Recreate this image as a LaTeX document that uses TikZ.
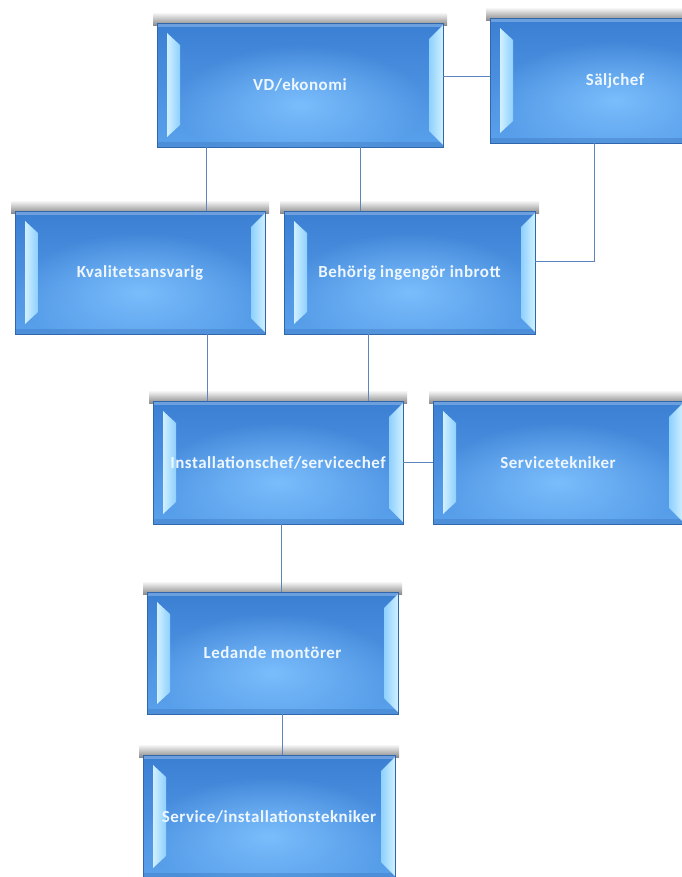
\documentclass[tikz,border=0pt]{standalone}
\usepackage{fontspec}
\setmainfont{Carlito}
\usetikzlibrary{fadings,calc}
\definecolor{boxedge}{HTML}{2F66AC}
\definecolor{boxtop}{HTML}{3B7FD3}
\definecolor{boxbot}{HTML}{5AA1EC}
\definecolor{boxglow}{HTML}{80C2FF}
\definecolor{bevel}{HTML}{8ED0FF}
\definecolor{bevellight}{HTML}{D0F0FF}
\definecolor{link}{HTML}{5C85BE}
\definecolor{txt}{HTML}{EEF7FF}
\tikzfading[name=softglow, inner color=transparent!0, outer color=transparent!100]
\tikzset{
  orgbox/.style={draw=boxedge, line width=0.8bp, top color=boxtop, bottom color=boxbot,
    text=txt, font=\bfseries\fontsize{17}{20}\selectfont\addfontfeature{LetterSpace=3}, inner sep=0pt,
    path picture={
      \path (path picture bounding box.north west) coordinate (pnw)
            (path picture bounding box.south east) coordinate (pse);
      \fill[boxglow, opacity=0.9, path fading=softglow]
        ($(pnw)!0.5!(pse)+(0,20)$) ellipse [x radius=125, y radius=60];
      \fill[white, opacity=0.25] (pnw) rectangle ($(pnw -| pse)+(0,4)$);
      \fill[boxedge, opacity=0.3] ($(pnw |- pse)+(0,-5)$) rectangle (pse);
      \shade[left color=bevellight, right color=bevel]
        ($(pnw)+(10,10)$) -- ($(pnw)+(23,22)$) -- ($(pnw |- pse)+(23,-22)$) -- ($(pnw |- pse)+(10,-10)$) -- cycle;
      \shade[left color=bevel, right color=bevellight]
        ($(pnw -| pse)+(0,2)$) -- ($(pnw -| pse)+(-14,16)$) -- ($(pse)+(-14,-16)$) -- ($(pse)+(0,-2)$) -- cycle;
    }},
  link/.style={draw=link, line width=1bp}
}
\newcommand\orgnode[6]{%
  \shade[top color=white, bottom color=black!45] ({#2-4},{#3-11}) rectangle ({#4+4},{#3+2});
  \node[orgbox, minimum width={(#4-#2)*1bp}, minimum height={(#5-#3)*1bp}] (#1) at ({(#2+#4)/2},{(#3+#5)/2}) {#6};
}
\begin{document}
\begin{tikzpicture}[x=1bp,y=-1bp]
\useasboundingbox (0,0) rectangle (682,877);
\clip (0,0) rectangle (682,877);
\fill[white] (0,0) rectangle (682,877);
\orgnode{vd}{157}{23}{443}{147}{VD/ekonomi}
\orgnode{sal}{490}{18}{740}{143}{Säljchef}
\orgnode{kv}{15}{211}{265}{334}{Kvalitetsansvarig}
\orgnode{be}{284}{211}{535}{334}{Behörig ingengör inbrott}
\orgnode{in}{153}{401}{403}{524}{Installationschef/servicechef}
\orgnode{st}{433}{401}{683}{524}{Servicetekniker}
\orgnode{le}{147}{592}{398}{714}{Ledande montörer}
\orgnode{si}{143}{755}{395}{878}{Service/installationstekniker}
\coordinate (xa) at (206,0);
\coordinate (xb) at (360,0);
\coordinate (xc) at (594,0);
\coordinate (xd) at (207,0);
\coordinate (xe) at (368,0);
\coordinate (xf) at (281,0);
\coordinate (xg) at (282,0);
\coordinate (ya) at (0,76);
\coordinate (yb) at (0,261);
\draw[link] (vd.east |- ya) -- (sal.west |- ya);
\draw[link] (vd.south -| xa) -- (kv.north -| xa);
\draw[link] (vd.south -| xb) -- (be.north -| xb);
\draw[link] (sal.south -| xc) |- (be.east |- yb);
\draw[link] (kv.south -| xd) -- (in.north -| xd);
\draw[link] (be.south -| xe) -- (in.north -| xe);
\draw[link] (in.east) -- (st.west);
\draw[link] (in.south -| xf) -- (le.north -| xf);
\draw[link] (le.south -| xg) -- (si.north -| xg);
\end{tikzpicture}
\end{document}
